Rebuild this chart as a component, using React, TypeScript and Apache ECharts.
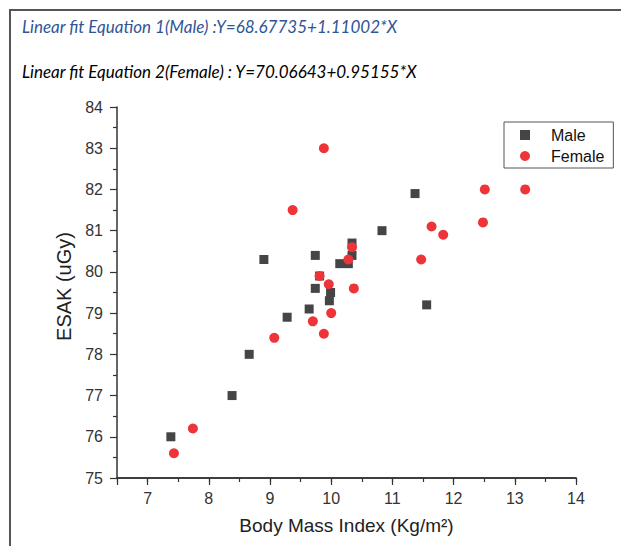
import React, { useEffect, useRef } from "react";
import * as echarts from "echarts";

const maleBMI = [7.38, 8.38, 8.66, 8.9, 9.28, 9.64, 9.74, 9.74, 9.81, 9.97, 9.99, 10.14, 10.28, 10.34, 10.34, 10.83, 11.37, 11.56];
const maleESAK = [76.0, 77.0, 78.0, 80.3, 78.9, 79.1, 80.4, 79.6, 79.9, 79.3, 79.5, 80.2, 80.2, 80.7, 80.4, 81.0, 81.9, 79.2];
const femaleBMI = [7.43, 7.74, 9.07, 9.37, 9.7, 9.81, 9.88, 9.88, 9.96, 10.0, 10.28, 10.34, 10.37, 11.47, 11.64, 11.83, 12.48, 12.51, 13.17];
const femaleESAK = [75.6, 76.2, 78.4, 81.5, 78.8, 79.9, 83.0, 78.5, 79.7, 79.0, 80.3, 80.6, 79.6, 80.3, 81.1, 80.9, 81.2, 82.0, 82.0];

const equation1 = "Linear fit Equation 1(Male) :Y=68.67735+1.11002*X";
const equation2 = "Linear fit Equation 2(Female) : Y=70.06643+0.95155*X";
const xName = "Body Mass Index (Kg/m²)";
const yName = "ESAK (uGy)";

export default function App() {
  const ref = useRef<HTMLDivElement>(null);
  useEffect(() => {
    document.body.style.margin = "0";
    const chart = echarts.init(ref.current!, null, { renderer: "svg" });
    const axisColor = "#333";
    const labelFont = "'Liberation Sans', Arial, sans-serif";
    chart.setOption({
      animation: false,
      backgroundColor: "#fff",
      grid: { left: 117, right: 45, top: 107, bottom: 68 },
      graphic: [
        { type: "line", shape: { x1: 9, y1: 10, x2: 621, y2: 10 }, style: { stroke: "#555", lineWidth: 2 } },
        { type: "line", shape: { x1: 10, y1: 9, x2: 10, y2: 546 }, style: { stroke: "#555", lineWidth: 2 } },
        {
          type: "text", left: 22, top: 18,
          style: { text: equation1, fill: "#2f5597", font: "italic 17px Lato, sans-serif" },
        },
        {
          type: "text", left: 22, top: 63,
          style: { text: equation2, fill: "#000", font: "italic 17px Lato, sans-serif" },
        },
      ],
      legend: {
        left: 504,
        top: 122,
        orient: "vertical",
        borderColor: "#555",
        borderWidth: 1,
        padding: [5, 9, 4, 16],
        itemGap: 5,
        itemWidth: 10,
        itemHeight: 10,
        textStyle: { fontSize: 16, color: "#111", fontFamily: labelFont, padding: [0, 0, 0, 16] },
        data: [
          { name: "Male", icon: "rect" },
          { name: "Female", icon: "circle" },
        ],
      },
      xAxis: [
        {
          type: "value", position: "bottom", min: 6.5, max: 14, interval: 0.5,
          axisLine: { show: true, onZero: false, lineStyle: { color: axisColor, width: 1.5 } },
          axisTick: { show: true, length: 4, lineStyle: { color: axisColor, width: 1.2 } },
          axisLabel: { show: false },
          splitLine: { show: false },
        },
        {
          type: "value", position: "bottom", min: 6.5, max: 14, splitNumber: 8, minInterval: 1, maxInterval: 1,
          axisLine: { show: true, onZero: false, lineStyle: { color: axisColor, width: 1.5 } },
          axisTick: { show: true, length: 7, lineStyle: { color: axisColor, width: 1.2 } },
          axisLabel: {
            margin: 12, fontSize: 16, color: axisColor, fontFamily: labelFont,
            formatter: (v: number) => (Number.isInteger(v) ? String(v) : ""),
          },
          splitLine: { show: false },
          name: xName,
          nameLocation: "middle",
          nameGap: 38,
          nameTextStyle: { fontSize: 19, color: "#222", fontFamily: labelFont },
        },
      ],
      yAxis: {
        type: "value", min: 75, max: 84, interval: 1,
        axisLine: { show: true, onZero: false, lineStyle: { color: axisColor, width: 1.5 } },
        axisTick: { show: true, length: 7, lineStyle: { color: axisColor, width: 1.2 } },
        minorTick: { show: true, splitNumber: 2, length: 4, lineStyle: { color: axisColor, width: 1.2 } },
        axisLabel: { margin: 14, fontSize: 16, color: axisColor, fontFamily: labelFont },
        splitLine: { show: false },
        name: yName,
        nameLocation: "middle",
        nameGap: 34,
        nameTextStyle: { fontSize: 20, color: "#222", fontFamily: labelFont, padding: [0, 0, 0, 12] },
      },
      series: [
        {
          name: "Male", type: "scatter", symbol: "rect", symbolSize: 9,
          itemStyle: { color: "#454545", opacity: 1 },
          data: maleBMI.map((x, i) => [x, maleESAK[i]]),
        },
        {
          name: "Female", type: "scatter", symbol: "circle", symbolSize: 10,
          itemStyle: { color: "#ee3438", opacity: 1 },
          data: femaleBMI.map((x, i) => [x, femaleESAK[i]]),
        },
      ],
    });
    return () => chart.dispose();
  }, []);
  return <div ref={ref} style={{ width: 621, height: 546 }} />;
}
